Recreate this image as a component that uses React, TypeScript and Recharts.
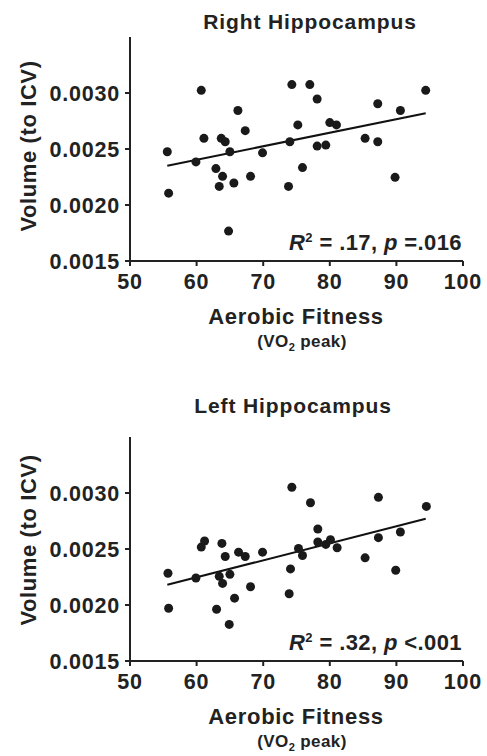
import React from "react";
import {
  ScatterChart,
  Scatter,
  XAxis,
  YAxis,
  ReferenceLine,
  Label,
} from "recharts";

// Aerobic fitness (VO2 peak) vs hippocampal volume / ICV
const rightFitness = [
  55.6, 55.8, 60.7, 59.9, 61.1, 62.9, 63.4, 63.7, 64.3, 63.9, 65.0, 64.8,
  65.6, 66.2, 67.3, 68.1, 69.9, 73.8, 74.0, 74.3, 75.2, 75.9, 77.0, 78.1,
  78.1, 79.4, 80.0, 81.0, 85.3, 87.2, 87.2, 89.8, 90.6, 94.4,
];
const rightVolume = [
  0.002475, 0.002106, 0.003024, 0.002385, 0.002595, 0.002325, 0.002166,
  0.002595, 0.002565, 0.002256, 0.002475, 0.001767, 0.002196, 0.002844,
  0.002664, 0.002256, 0.002466, 0.002166, 0.002565, 0.003075, 0.002715,
  0.002334, 0.003075, 0.002946, 0.002526, 0.002535, 0.002736, 0.002715,
  0.002595, 0.002904, 0.002565, 0.002247, 0.002844, 0.003024,
];

const leftFitness = [
  55.7, 55.8, 59.9, 60.7, 61.2, 63.0, 63.4, 63.8, 63.9, 64.3, 65.0, 64.9,
  65.7, 66.3, 67.3, 68.1, 69.9, 73.9, 74.1, 74.3, 75.3, 75.9, 77.1, 78.2,
  78.2, 79.4, 80.1, 81.1, 85.3, 87.3, 87.3, 89.9, 90.6, 94.5,
];
const leftVolume = [
  0.002283, 0.001971, 0.002241, 0.002517, 0.002571, 0.001962, 0.002256,
  0.00255, 0.002193, 0.002433, 0.002274, 0.001827, 0.002061, 0.002472,
  0.002433, 0.002163, 0.002472, 0.0021, 0.002322, 0.003051, 0.002505,
  0.002442, 0.002913, 0.002679, 0.002562, 0.002541, 0.002583, 0.002511,
  0.002421, 0.002961, 0.002601, 0.00231, 0.002652, 0.00288,
];

// regression line end points
const fitX = [55.6, 94.4];
const rightFitY = [0.00235, 0.00282];
const leftFitY = [0.00218, 0.00277];

const xTicks = [50, 60, 70, 80, 90, 100];
const yTicks = [0.0015, 0.002, 0.0025, 0.003];

const FONT = "'Liberation Sans', Arial, Helvetica, sans-serif";
const INK = "#222";

interface PanelProps {
  top: number; // page offset of this panel
  height: number;
  plotTop: number; // page y of the plot's top / bottom
  plotBottom: number;
  title: string;
  titleX: number;
  titleY: number;
  yLabelY: number;
  fitness: number[];
  volume: number[];
  fitY: number[];
  r2: string;
  pText: string;
}

function Panel(props: PanelProps) {
  const { top, height, plotTop, plotBottom, title, titleX, titleY, yLabelY } =
    props;
  const points = props.fitness.map((x, i) => ({ x, y: props.volume[i] }));
  const b = plotBottom - top; // local y of the x axis
  const yl = yLabelY - top;

  const annotations = () => (
    <g fontFamily={FONT} fontWeight="bold" fill={INK}>
      <text x={titleX} y={titleY - top} textAnchor="middle" fontSize={21} letterSpacing={0.9}>
        {title}
      </text>
      <text
        x={28}
        y={yl}
        transform={`rotate(-90, 28, ${yl})`}
        textAnchor="middle"
        dominantBaseline="central"
        fontSize={22}
        letterSpacing={0.6}
      >
        Volume (to ICV)
      </text>
      <text x={296} y={b + 63} textAnchor="middle" fontSize={22} letterSpacing={0.7}>
        Aerobic Fitness
      </text>
      <text x={302} y={b + 86} textAnchor="middle" fontSize={17} letterSpacing={0.4}>
        <tspan>(VO</tspan>
        <tspan dy={4} fontSize={11}>2</tspan>
        <tspan dy={-4}> peak)</tspan>
      </text>
      <text x={462} y={b - 11} textAnchor="end" fontSize={22} letterSpacing={0.4}>
        <tspan fontStyle="italic">R</tspan>
        <tspan dy={-8} fontSize={13}>2</tspan>
        <tspan dy={8}>{` = ${props.r2}, `}</tspan>
        <tspan fontStyle="italic">p</tspan>
        <tspan>{` ${props.pText}`}</tspan>
      </text>
    </g>
  );

  const tickStyle = {
    fill: INK,
    fontSize: 21.5,
    fontWeight: "bold",
    fontFamily: FONT,
    letterSpacing: 0.8,
  };

  return (
    <div style={{ position: "absolute", left: 0, top }}>
      <ScatterChart
        width={487}
        height={height}
        margin={{ top: plotTop - top, right: 24, bottom: 0, left: 0 }}
      >
        <XAxis
          type="number"
          dataKey="x"
          domain={[50, 100]}
          ticks={xTicks}
          height={height - b}
          tickSize={5}
          tickMargin={8}
          axisLine={{ stroke: INK, strokeWidth: 2 }}
          tickLine={{ stroke: INK, strokeWidth: 2 }}
          tick={tickStyle}
        >
          <Label content={annotations} />
        </XAxis>
        <YAxis
          type="number"
          dataKey="y"
          domain={[0.0015, 0.0035]}
          ticks={yTicks}
          width={130}
          tickSize={5}
          tickMargin={5}
          tickFormatter={(v: number) => v.toFixed(4)}
          axisLine={{ stroke: INK, strokeWidth: 2 }}
          tickLine={{ stroke: INK, strokeWidth: 2 }}
          tick={tickStyle}
        />
        <ReferenceLine
          segment={[
            { x: fitX[0], y: props.fitY[0] },
            { x: fitX[1], y: props.fitY[1] },
          ]}
          stroke="#111"
          strokeWidth={2}
        />
        <Scatter
          data={points}
          isAnimationActive={false}
          shape={(p: any) => <circle cx={p.cx} cy={p.cy} r={4.5} fill="#1a1a1a" />}
        />
      </ScatterChart>
    </div>
  );
}

export default function App() {
  return (
    <div style={{ position: "absolute", left: 0, top: 0, width: 487, height: 756, background: "#fff" }}>
      <Panel
        top={0}
        height={380}
        plotTop={37}
        plotBottom={261}
        title="Right Hippocampus"
        titleX={310}
        titleY={29}
        yLabelY={146}
        fitness={rightFitness}
        volume={rightVolume}
        fitY={rightFitY}
        r2=".17"
        pText="=.016"
      />
      <Panel
        top={380}
        height={376}
        plotTop={437}
        plotBottom={661}
        title="Left Hippocampus"
        titleX={293}
        titleY={413}
        yLabelY={540}
        fitness={leftFitness}
        volume={leftVolume}
        fitY={leftFitY}
        r2=".32"
        pText="<.001"
      />
    </div>
  );
}
